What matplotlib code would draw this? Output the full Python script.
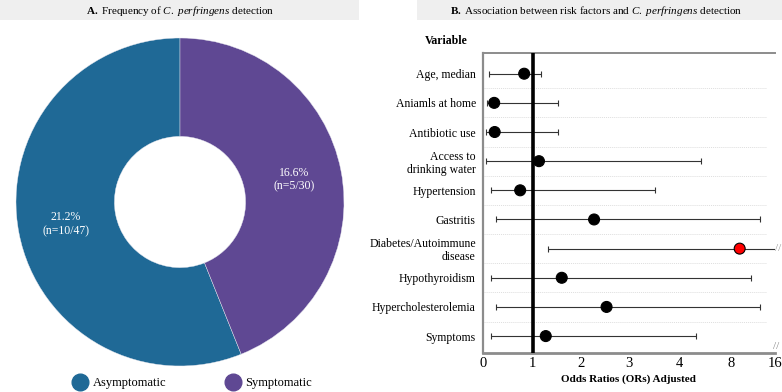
import numpy as np
import matplotlib
matplotlib.use("Agg")
import matplotlib.pyplot as plt
from matplotlib.lines import Line2D
from matplotlib.patches import Rectangle

# panel A data
groups = ["Asymptomatic", "Symptomatic"]
pct = [21.2, 16.6]
counts = ["(n=10/47)", "(n=5/30)"]
colors = ["#1f6996", "#5f4893"]

# panel B data
variables = ["Age, median", "Aniamls at home", "Antibiotic use",
             "Access to\ndrinking water", "Hypertension", "Gastritis",
             "Diabetes/Autoimmune\ndisease", "Hypothyroidism",
             "Hypercholesterolemia", "Symptoms"]
or_adj = [0.83, 0.23, 0.24, 1.13, 0.75, 2.27, 9.5, 1.6, 2.53, 1.27]
ci_low = [0.13, 0.09, 0.07, 0.07, 0.17, 0.27, 1.31, 0.17, 0.26, 0.17]
ci_high = [1.18, 1.52, 1.52, 5.7, 3.52, 13.2, 16, 11.6, 13.2, 5.3]
truncated = [False, False, False, False, False, False, True, False, False, False]
xticks = [0, 1, 2, 3, 4, 8, 16]
tick_pos = [0, 1, 1.97, 2.93, 3.93, 4.98, 5.85]

plt.rcParams["font.family"] = ["Liberation Serif", "DejaVu Serif"]
plt.rcParams["mathtext.fontset"] = "custom"
plt.rcParams["mathtext.rm"] = "Liberation Serif"
plt.rcParams["mathtext.it"] = "Liberation Serif:italic"
plt.rcParams["mathtext.bf"] = "Liberation Serif:bold"

W, H = 782, 392
fig = plt.figure(figsize=(W / 100, H / 100), dpi=100)


def fx(px):
    return px / W


def fy(py):
    return 1 - py / H


# header boxes
fig.patches.append(Rectangle((0, fy(20)), fx(359), 20 / H, transform=fig.transFigure,
                             facecolor="#efefef", edgecolor="none", zorder=0))
fig.patches.append(Rectangle((fx(417), fy(20)), fx(365), 20 / H, transform=fig.transFigure,
                             facecolor="#efefef", edgecolor="none", zorder=0))
fig.text(fx(180), fy(11), r"$\mathbf{A.}$ Frequency of $\mathit{C.\ perfringens}$ detection",
         ha="center", va="center", fontsize=8)
fig.text(fx(596), fy(11), r"$\mathbf{B.}$ Association between risk factors and $\mathit{C.\ perfringens}$ detection",
         ha="center", va="center", fontsize=8)

# --- A: donut
ax1 = fig.add_axes([fx(16), (H - 202 - 164) / H, 328 / W, 328 / H])
wedges, _ = ax1.pie(pct, colors=colors, startangle=90, radius=1,
                    wedgeprops=dict(width=0.6, edgecolor="#e8e8f0", linewidth=0.3))
ax1.set_xlim(-1, 1)
ax1.set_ylim(-1, 1)
ax1.set_aspect("auto")
for w, p, n in zip(wedges, pct, counts):
    ang = np.deg2rad((w.theta1 + w.theta2) / 2)
    ax1.text(0.71 * np.cos(ang), 0.71 * np.sin(ang), f"{p}%\n{n}", color="white",
             ha="center", va="center", fontsize=8.5, linespacing=1.2)

handles = [Line2D([], [], marker="o", linestyle="none", markersize=12,
                  markerfacecolor=c, markeredgecolor=c) for c in colors]
fig.legend(handles, groups, loc="center", bbox_to_anchor=(fx(193), fy(383)), ncol=2,
           frameon=False, fontsize=9, handletextpad=0.5, columnspacing=4.8,
           borderaxespad=0, handlelength=1.0)

# --- B: forest plot
ax2 = fig.add_axes([fx(482.7), (H - 352.7) / H, (775 - 482.7) / W, 299.4 / H])
ax2.set_xscale("function", functions=(lambda v: np.interp(v, xticks, tick_pos),
                                      lambda p: np.interp(p, tick_pos, xticks)))
ax2.set_xlim(0, 16)
rows = np.arange(len(variables))
ax2.set_ylim(9.57, -0.7)

for r in rows[:-1]:
    ax2.axhline(r + 0.5, xmax=0.97, color="#dedede", lw=0.7, linestyle=(0, (1, 1)), zorder=0)

ax2.hlines(rows, ci_low, ci_high, color="#333333", lw=0.8, zorder=2)
ax2.plot(ci_low, rows, linestyle="none", marker="|", markersize=4, color="#333333",
         markeredgewidth=0.8, zorder=2)
hi_x = [h for h, t in zip(ci_high, truncated) if not t]
hi_y = [r for r, t in zip(rows, truncated) if not t]
ax2.plot(hi_x, hi_y, linestyle="none", marker="|", markersize=4, color="#333333",
         markeredgewidth=0.8, zorder=2)
for r, t in zip(rows, truncated):
    if t:
        ax2.text(16, r, "//", ha="left", va="center", fontsize=8, color="#999999",
                 clip_on=False)

ax2.axvline(1, color="black", lw=2.6, zorder=3)
pt_colors = ["red" if t else "black" for t in truncated]
ax2.scatter(or_adj, rows, s=62, c=pt_colors, edgecolors="black", linewidths=0.8, zorder=4)

ax2.set_yticks(rows)
ax2.set_yticklabels(variables, fontsize=8.5, linespacing=1.1)
ax2.set_xticks(xticks)
ax2.set_xticklabels([str(t) for t in xticks], fontsize=10.5)
ax2.tick_params(axis="both", length=0)
ax2.tick_params(axis="y", pad=5)
ax2.tick_params(axis="x", pad=3)
ax2.set_xlabel("Odds Ratios (ORs) Adjusted", fontsize=8, fontweight="bold", labelpad=3)

ax2.spines["right"].set_visible(False)
ax2.spines["left"].set_color("#8c8c8c")
ax2.spines["left"].set_linewidth(1.6)
ax2.spines["bottom"].set_color("#8c8c8c")
ax2.spines["bottom"].set_linewidth(2)
ax2.spines["top"].set_color("#8c8c8c")
ax2.spines["top"].set_linewidth(1.4)
ax2.text(1.004, 0.006, "//", transform=ax2.transAxes, ha="center", va="bottom",
         fontsize=8, color="#888888", clip_on=False)

fig.text(fx(425), fy(41), "Variable", fontsize=8.5, fontweight="bold", ha="left", va="center")

fig.savefig("out.png", dpi=100)
